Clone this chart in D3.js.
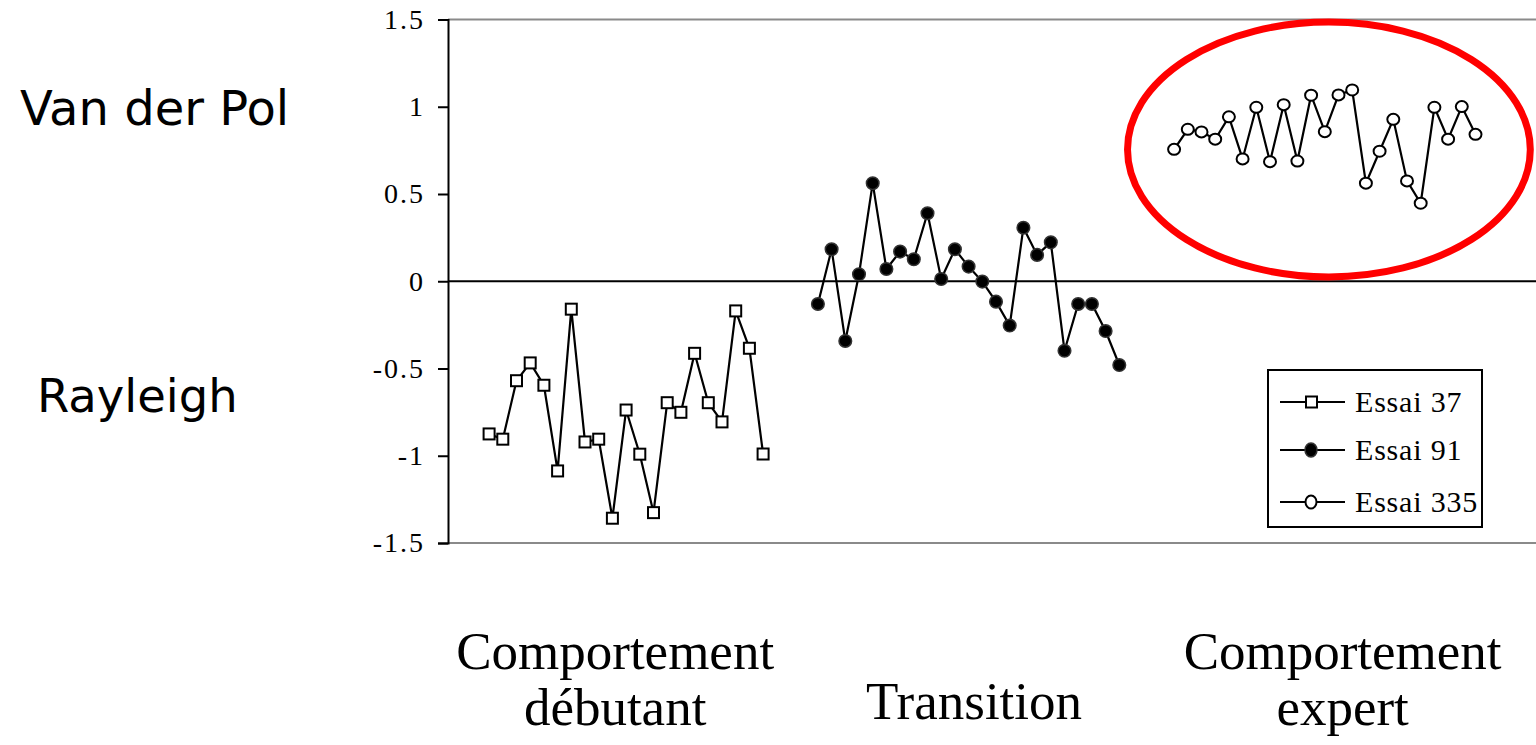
<!DOCTYPE html>
<html>
<head>
<meta charset="utf-8">
<script src="https://cdn.jsdelivr.net/npm/d3@7"></script>
<style>
  html, body { margin: 0; padding: 0; background: #fff; }
  svg { display: block; }
</style>
</head>
<body>
<svg id="chart" width="1536" height="745"></svg>
<script>
// Trial values (trajectory index on x, oscillator index on y)
const essai37 = [-0.875, -0.905, -0.570, -0.468, -0.596, -1.087, -0.160, -0.921, -0.905, -1.358,
                 -0.738, -0.991, -1.326, -0.696, -0.751, -0.413, -0.696, -0.806, -0.170, -0.384, -0.990];
const essai91 = [-0.130, 0.183, -0.342, 0.040, 0.562, 0.070, 0.170, 0.126, 0.390, 0.013, 0.183, 0.084,
                 -0.002, -0.117, -0.254, 0.307, 0.151, 0.223, -0.398, -0.130, -0.130, -0.285, -0.480];
const essai335 = [0.756, 0.871, 0.856, 0.814, 0.942, 0.701, 0.997, 0.685, 1.012, 0.689, 1.066, 0.857,
                  1.068, 1.096, 0.562, 0.745, 0.928, 0.575, 0.447, 0.997, 0.814, 1.001, 0.842];

// First category index of each trial
const startIndex = [0, 24, 50];
const seriesNames = ["Essai 37", "Essai 91", "Essai 335"];
const yTicks = [-1.5, -1, -0.5, 0, 0.5, 1, 1.5];
const yTickLabels = ["-1.5", "-1", "-0.5", "0", "0.5", "1", "1.5"];
const sideLabels = ["Van der Pol", "Rayleigh"];
const phaseLabels = [["Comportement", "débutant"], ["Transition"], ["Comportement", "expert"]];
const phaseCenters = [9.2, 35.4, 62.3];   // category positions of the phase captions

const svg = d3.select("#chart");
const x = d3.scaleLinear().domain([-3, 76.5]).range([448, 448 + 79.5 * 13.7]);
const y = d3.scaleLinear().domain([-1.5, 1.5]).range([543, 19.5]);

const serif = "'Liberation Serif', 'Times New Roman', serif";
const sans = "'DejaVu Sans', Verdana, sans-serif";

// Frame lines: top and bottom in grey, zero line in black
svg.append("line").attr("x1", x(-3)).attr("x2", 1536).attr("y1", y(1.5)).attr("y2", y(1.5))
  .attr("stroke", "#8a8a8a").attr("stroke-width", 2);
svg.append("line").attr("x1", x(-3)).attr("x2", 1536).attr("y1", y(-1.5)).attr("y2", y(-1.5))
  .attr("stroke", "#8a8a8a").attr("stroke-width", 2);
svg.append("line").attr("x1", x(-3)).attr("x2", 1536).attr("y1", y(0)).attr("y2", y(0))
  .attr("stroke", "#000").attr("stroke-width", 2);

// Y axis
const yAxis = d3.axisLeft(y).tickValues(yTicks)
  .tickFormat((d, i) => yTickLabels[i]).tickSize(10).tickPadding(13);
const gy = svg.append("g").attr("transform", `translate(${x(-3)},0)`).call(yAxis)
  .attr("font-family", null).attr("font-size", null);
gy.select(".domain").attr("stroke", "#000").attr("stroke-width", 2);
gy.selectAll(".tick line").attr("stroke", "#000").attr("stroke-width", 2);
gy.selectAll(".tick text")
  .style("font-family", serif).style("font-size", "28px")
  .style("letter-spacing", "2px").attr("fill", "#000");

const line = d3.line().x(d => x(d.i)).y(d => y(d.v));
const toPts = (arr, s) => arr.map((v, k) => ({ i: s + k, v }));

const all = [essai37, essai91, essai335].map((a, k) => toPts(a, startIndex[k]));

all.forEach(pts => {
  svg.append("path").datum(pts).attr("d", line)
    .attr("fill", "none").attr("stroke", "#000").attr("stroke-width", 2.2);
});

// Markers
svg.append("g").selectAll("rect").data(all[0]).join("rect")
  .attr("x", d => x(d.i) - 5.5).attr("y", d => y(d.v) - 5.5)
  .attr("width", 11).attr("height", 11)
  .attr("fill", "#fff").attr("stroke", "#000").attr("stroke-width", 2);
svg.append("g").selectAll("circle").data(all[1]).join("circle")
  .attr("cx", d => x(d.i)).attr("cy", d => y(d.v)).attr("r", 6.3)
  .attr("fill", "#000").attr("stroke", "#333").attr("stroke-width", 1.5);
svg.append("g").selectAll("ellipse").data(all[2]).join("ellipse")
  .attr("cx", d => x(d.i)).attr("cy", d => y(d.v)).attr("rx", 6).attr("ry", 5.5)
  .attr("fill", "#fff").attr("stroke", "#000").attr("stroke-width", 2);

// Highlight around the expert trial
svg.append("ellipse")
  .attr("cx", x(61.3)).attr("cy", y(0.755))
  .attr("rx", x(61.3 + 14.7) - x(61.3)).attr("ry", y(0) - y(0.73))
  .attr("fill", "none").attr("stroke", "#ff0000").attr("stroke-width", 7);

// Legend
const lg = svg.append("g");
lg.append("rect").attr("x", 1268).attr("y", 370).attr("width", 214).attr("height", 157)
  .attr("fill", "#fff").attr("stroke", "#000").attr("stroke-width", 2);
const rowY = [402, 450, 502];
seriesNames.forEach((name, k) => {
  const ry = rowY[k];
  lg.append("line").attr("x1", 1280).attr("x2", 1345).attr("y1", ry).attr("y2", ry)
    .attr("stroke", "#000").attr("stroke-width", 2);
  if (k === 0) {
    lg.append("rect").attr("x", 1306).attr("y", ry - 5.5).attr("width", 11).attr("height", 11)
      .attr("fill", "#fff").attr("stroke", "#000").attr("stroke-width", 2);
  } else if (k === 1) {
    lg.append("ellipse").attr("cx", 1311).attr("cy", ry).attr("rx", 6).attr("ry", 7)
      .attr("fill", "#000").attr("stroke", "#333").attr("stroke-width", 1.5);
  } else {
    lg.append("ellipse").attr("cx", 1311).attr("cy", ry).attr("rx", 5.5).attr("ry", 6.5)
      .attr("fill", "#fff").attr("stroke", "#000").attr("stroke-width", 2);
  }
  lg.append("text").attr("x", 1355).attr("y", ry + 10)
    .attr("font-family", serif).attr("font-size", 30).attr("letter-spacing", "0.8px")
    .text(name);
});

// Side labels
svg.append("text").attr("x", 20).attr("y", 125).attr("font-family", sans)
  .attr("font-size", 48).text(sideLabels[0]);
svg.append("text").attr("x", 37).attr("y", 412).attr("font-family", sans)
  .attr("font-size", 46.5).text(sideLabels[1]);

// Phase captions under the chart
phaseLabels.forEach((lines, k) => {
  const t = svg.append("text").attr("text-anchor", "middle")
    .attr("font-family", serif).attr("font-size", 53).attr("fill", "#000");
  const cx = x(phaseCenters[k]);
  if (lines.length === 1) {
    t.append("tspan").attr("x", cx).attr("y", 719).text(lines[0]);
  } else {
    t.append("tspan").attr("x", cx).attr("y", 669).text(lines[0]);
    t.append("tspan").attr("x", cx).attr("y", 725).text(lines[1]);
  }
});
</script>
</body>
</html>
